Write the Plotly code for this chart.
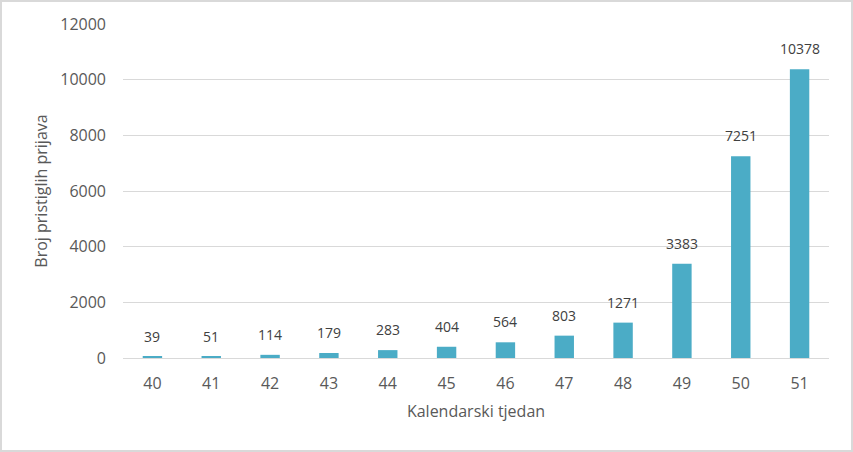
import plotly.graph_objects as go

weeks = ["40", "41", "42", "43", "44", "45", "46", "47", "48", "49", "50", "51"]
counts = [39, 51, 114, 179, 283, 404, 564, 803, 1271, 3383, 7251, 10378]
y_ticks = [0, 2000, 4000, 6000, 8000, 10000, 12000]

W, H = 853, 452
ml, mr, mt, mb = 123, 24, 24, 94
pw, ph = W - ml - mr, H - mt - mb

font = "Open Sans, Liberation Sans, sans-serif"
grey = "#595959"

fig = go.Figure(go.Bar(
    x=weeks, y=counts, marker_color="#4BACC6", marker_line_width=0,
))

# data labels placed on the category axis (by category index) just above each bar
for i, c in enumerate(counts):
    fig.add_annotation(x=i, y=c, xref="x", yref="y", text=str(c), showarrow=False,
                       yanchor="bottom", yshift=9,
                       font=dict(family=font, size=14, color="#404040"))

fig.update_layout(
    width=W, height=H, margin=dict(l=ml, r=mr, t=mt, b=mb),
    paper_bgcolor="white", plot_bgcolor="white", bargap=0.67, showlegend=False,
    font=dict(family=font, color=grey),
    xaxis=dict(type="category", categoryorder="array", categoryarray=weeks,
               title=dict(text="Kalendarski tjedan", font=dict(size=16, color=grey), standoff=12),
               tickfont=dict(size=16, color=grey), showgrid=False, showline=False, ticks="",
               ticklabelstandoff=14),
    yaxis=dict(title=dict(text="Broj pristiglih prijava", font=dict(size=16, color=grey), standoff=8),
               range=[0, 12000], tickvals=y_ticks, ticktext=[str(v) for v in y_ticks],
               tickfont=dict(size=16, color=grey),
               gridcolor="#D9D9D9", gridwidth=1, zeroline=True, zerolinecolor="#D9D9D9",
               zerolinewidth=1, showline=False, ticks="", ticklabelstandoff=16),
)
fig.add_shape(type="rect", xref="paper", yref="paper",
              x0=-(ml - 1) / pw, x1=1 + (mr - 1) / pw, y0=-(mb - 1) / ph, y1=1 + (mt - 1) / ph,
              line=dict(color="#D9D9D9", width=2), fillcolor="rgba(0,0,0,0)", layer="below")

fig.write_html("out.html", config={"displayModeBar": False},
               post_script="document.body.style.margin='0';document.body.style.overflow='hidden';")
